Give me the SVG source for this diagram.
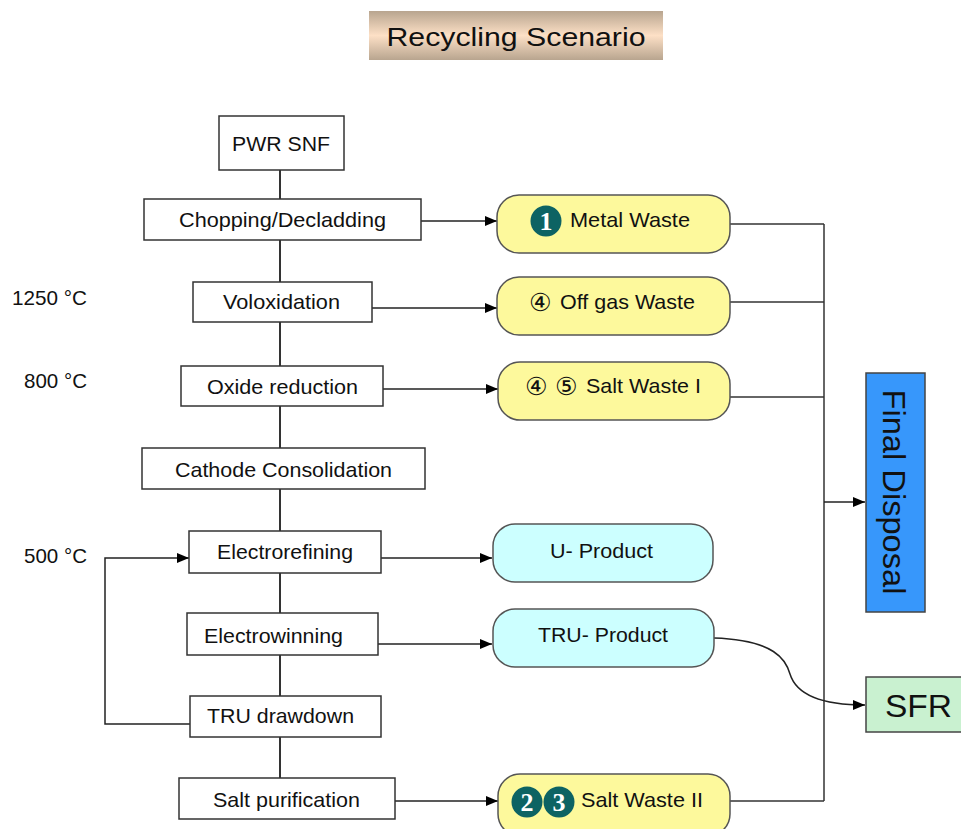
<svg xmlns="http://www.w3.org/2000/svg" width="961" height="829" viewBox="0 0 961 829">
<defs>
<linearGradient id="tg" x1="0" y1="0" x2="0" y2="1">
<stop offset="0" stop-color="#b8a58f"/>
<stop offset="0.5" stop-color="#fde0c6"/>
<stop offset="1" stop-color="#b8a58f"/>
</linearGradient>
<marker id="ah" viewBox="0 0 12 10" refX="12" refY="5" markerWidth="12" markerHeight="10" markerUnits="userSpaceOnUse" orient="auto">
<path d="M0,0 L12,5 L0,10 Z" fill="#000"/>
</marker>
</defs>
<style>
text{font-family:"Liberation Sans",Arial,"DejaVu Sans",sans-serif;fill:#111;}
.t{font-size:21px;}
.proc{fill:#fff;stroke:#333;stroke-width:1.5;}
.waste{fill:#fdf99c;stroke:#555;stroke-width:1.5;}
.prod{fill:#ccffff;stroke:#555;stroke-width:1.5;}
.ln{fill:none;stroke:#333;stroke-width:1.5;}
.arr{fill:none;stroke:#222;stroke-width:1.5;marker-end:url(#ah);}
.badge{fill:#0d6363;}
.bd{font-family:"Liberation Serif","Times New Roman",serif;font-weight:bold;font-size:26px;fill:#fff;}
.cd{font-family:"DejaVu Sans",sans-serif;font-size:25px;}
</style>
<rect width="961" height="829" fill="#fff"/>

<g id="connectors">
<line class="ln" x1="280" y1="170" x2="280" y2="778" style="stroke-width:2"/>
<line class="arr" x1="421" y1="221" x2="497" y2="221"/>
<line class="arr" x1="372" y1="308" x2="497" y2="308"/>
<line class="arr" x1="383" y1="389" x2="498" y2="389"/>
<line class="arr" x1="381" y1="558" x2="492" y2="558"/>
<line class="arr" x1="378" y1="644" x2="492" y2="644"/>
<line class="arr" x1="395" y1="801" x2="498" y2="801"/>
<polyline class="arr" points="190,724 105,724 105,558 189,558"/>
<line class="ln" x1="824" y1="224" x2="824" y2="801"/>
<line class="ln" x1="730" y1="224" x2="824" y2="224"/>
<line class="ln" x1="730" y1="302" x2="824" y2="302"/>
<line class="ln" x1="730" y1="397" x2="824" y2="397"/>
<line class="ln" x1="730" y1="801" x2="824" y2="801"/>
<line class="arr" x1="824" y1="502" x2="865" y2="502"/>
<path class="arr" d="M714,638 C775,640 786,660 790,674 C798,700 835,705 865,705"/>
</g>

<g id="title">
<rect x="369" y="11" width="294" height="49" fill="url(#tg)"/>
<text x="516" y="46" text-anchor="middle" font-size="25" textLength="259" lengthAdjust="spacingAndGlyphs">Recycling Scenario</text>
</g>

<g id="temp-1250"><text class="t" x="12" y="305" textLength="75" lengthAdjust="spacingAndGlyphs">1250 °C</text></g>
<g id="temp-800"><text class="t" x="24" y="388" textLength="63" lengthAdjust="spacingAndGlyphs">800 °C</text></g>
<g id="temp-500"><text class="t" x="24" y="563" textLength="63" lengthAdjust="spacingAndGlyphs">500 °C</text></g>

<g id="pwr-snf">
<rect class="proc" x="219" y="116" width="125" height="54"/>
<text class="t" x="232" y="151" textLength="98" lengthAdjust="spacingAndGlyphs">PWR SNF</text>
</g>
<g id="chopping">
<rect class="proc" x="144" y="199" width="277" height="41"/>
<text class="t" x="179" y="227" textLength="207" lengthAdjust="spacingAndGlyphs">Chopping/Decladding</text>
</g>
<g id="voloxidation">
<rect class="proc" x="193" y="282" width="179" height="40"/>
<text class="t" x="223" y="309" textLength="117" lengthAdjust="spacingAndGlyphs">Voloxidation</text>
</g>
<g id="oxide-reduction">
<rect class="proc" x="181" y="366" width="202" height="40"/>
<text class="t" x="207" y="394" textLength="151" lengthAdjust="spacingAndGlyphs">Oxide reduction</text>
</g>
<g id="cathode">
<rect class="proc" x="142" y="448" width="283" height="41"/>
<text class="t" x="175" y="477" textLength="217" lengthAdjust="spacingAndGlyphs">Cathode Consolidation</text>
</g>
<g id="electrorefining">
<rect class="proc" x="189" y="531" width="192" height="42"/>
<text class="t" x="217" y="559" textLength="136" lengthAdjust="spacingAndGlyphs">Electrorefining</text>
</g>
<g id="electrowinning">
<rect class="proc" x="187" y="613" width="191" height="42"/>
<text class="t" x="204" y="643" textLength="139" lengthAdjust="spacingAndGlyphs">Electrowinning</text>
</g>
<g id="tru-drawdown">
<rect class="proc" x="190" y="696" width="191" height="41"/>
<text class="t" x="207" y="723" textLength="147" lengthAdjust="spacingAndGlyphs">TRU drawdown</text>
</g>
<g id="salt-purification">
<rect class="proc" x="179" y="778" width="216" height="41"/>
<text class="t" x="213" y="807" textLength="147" lengthAdjust="spacingAndGlyphs">Salt purification</text>
</g>

<g id="metal-waste">
<rect class="waste" x="497" y="195" width="233" height="58" rx="22"/>
<circle class="badge" cx="546" cy="221" r="15.5"/>
<text class="bd" x="546" y="230" text-anchor="middle">1</text>
<text class="t" x="570" y="227" textLength="120" lengthAdjust="spacingAndGlyphs">Metal Waste</text>
</g>
<g id="offgas-waste">
<rect class="waste" x="497" y="277" width="233" height="58" rx="22"/>
<text class="cd" x="529" y="311">④</text>
<text class="t" x="560" y="309" textLength="135" lengthAdjust="spacingAndGlyphs">Off gas Waste</text>
</g>
<g id="salt-waste-1">
<rect class="waste" x="498" y="362" width="232" height="58" rx="22"/>
<text class="cd" x="525" y="395">④</text>
<text class="cd" x="555" y="395">⑤</text>
<text class="t" x="586" y="393" textLength="115" lengthAdjust="spacingAndGlyphs">Salt Waste I</text>
</g>
<g id="u-product">
<rect class="prod" x="493" y="524" width="220" height="58" rx="22"/>
<text class="t" x="550" y="558" textLength="103" lengthAdjust="spacingAndGlyphs">U- Product</text>
</g>
<g id="tru-product">
<rect class="prod" x="493" y="609" width="221" height="58" rx="22"/>
<text class="t" x="538" y="642" textLength="130" lengthAdjust="spacingAndGlyphs">TRU- Product</text>
</g>
<g id="salt-waste-2">
<rect class="waste" x="498" y="774" width="232" height="62" rx="22"/>
<circle class="badge" cx="527" cy="802" r="15.5"/>
<text class="bd" x="527" y="811" text-anchor="middle">2</text>
<circle class="badge" cx="559" cy="802" r="15.5"/>
<text class="bd" x="559" y="811" text-anchor="middle">3</text>
<text class="t" x="581" y="807" textLength="122" lengthAdjust="spacingAndGlyphs">Salt Waste II</text>
</g>

<g id="final-disposal">
<rect x="866" y="373" width="59" height="239" fill="#3797fb" stroke="#444" stroke-width="1.5"/>
<text x="0" y="0" font-size="32" text-anchor="middle" transform="translate(883,492) rotate(90)" textLength="205" lengthAdjust="spacingAndGlyphs">Final Disposal</text>
</g>
<g id="sfr">
<rect x="866" y="677" width="96" height="55" fill="#c9f1d0" stroke="#444" stroke-width="1.5"/>
<text x="885" y="717" font-size="31" textLength="67" lengthAdjust="spacingAndGlyphs">SFR</text>
</g>
</svg>
